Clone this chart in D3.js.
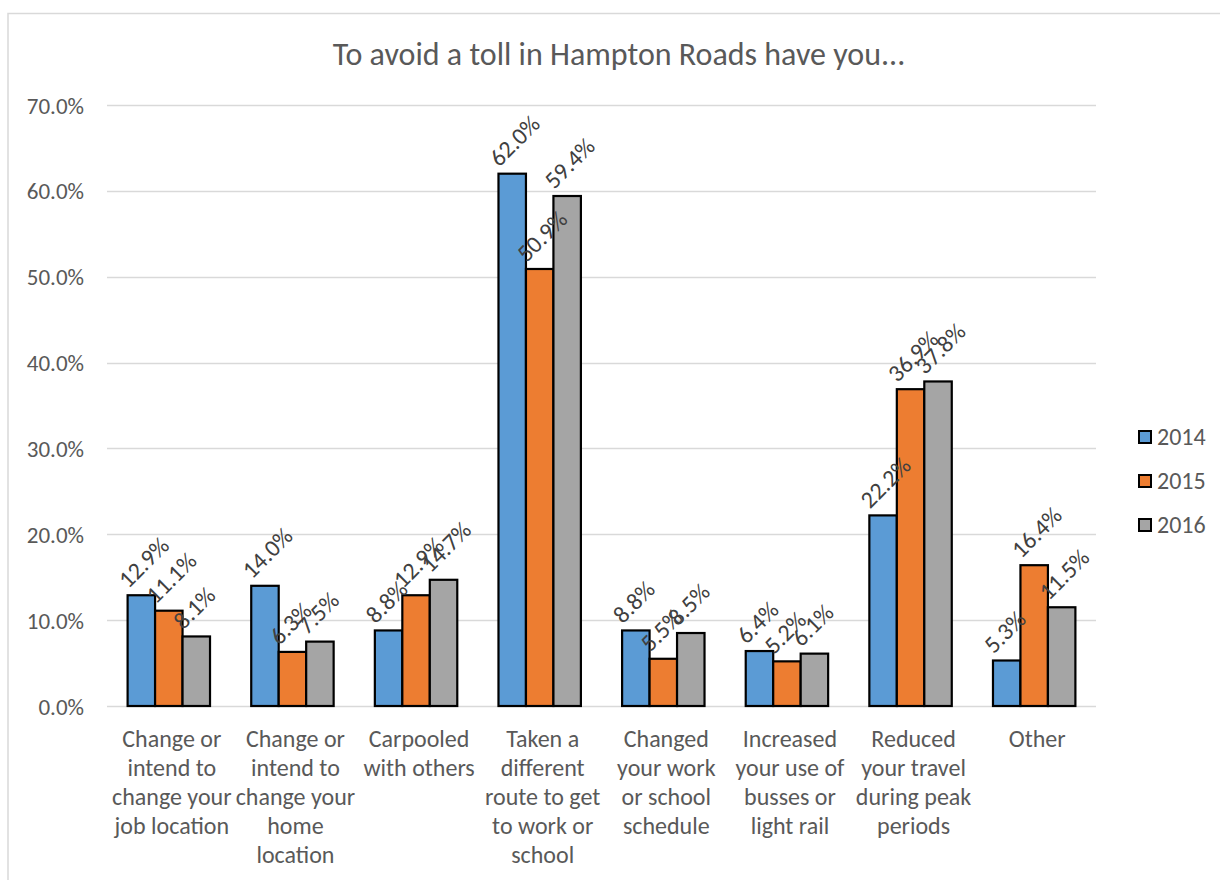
<!DOCTYPE html>
<html><head><meta charset="utf-8">
<script src="https://cdn.jsdelivr.net/npm/d3@7"></script>
<style>body{margin:0;background:#fff;} svg{display:block;}</style>
</head><body>
<script>
const title = "To avoid a toll in Hampton Roads have you...";
const categories = [
  "Change or|intend to|change your|job location",
  "Change or|intend to|change your|home|location",
  "Carpooled|with others",
  "Taken a|different|route to get|to work or|school",
  "Changed|your work|or school|schedule",
  "Increased|your use of|busses or|light rail",
  "Reduced|your travel|during peak|periods",
  "Other"
];
const seriesNames = ["2014", "2015", "2016"];
const values2014 = [12.9, 14.0, 8.8, 62.0, 8.8, 6.4, 22.2, 5.3];
const values2015 = [11.1, 6.3, 12.9, 50.9, 5.5, 5.2, 36.9, 16.4];
const values2016 = [8.1, 7.5, 14.7, 59.4, 8.5, 6.1, 37.8, 11.5];
const yTicks = [0, 10, 20, 30, 40, 50, 60, 70];
const colors = ["#5B9BD5", "#ED7D31", "#A5A5A5"];

const series = [values2014, values2015, values2016];
const W = 1220, H = 880;
const font = "Carlito, Calibri, 'Open Sans', sans-serif";
const svg = d3.select("body").append("svg").attr("width", W).attr("height", H)
  .style("font-family", font);

svg.append("rect").attr("x", 8).attr("y", 13.5).attr("width", 1300).attr("height", 1000)
  .attr("fill", "#fff").attr("stroke", "#d9d9d9").attr("stroke-width", 1.5);

svg.append("text").attr("x", 619).attr("y", 65).attr("text-anchor", "middle")
  .attr("fill", "#595959").style("font-size", "32px").text(title);

const pLeft = 107, pRight = 1096, pTop = 105, pBottom = 706;
const x = d3.scaleBand().domain(d3.range(categories.length)).range([pLeft, pRight]).paddingInner(0).paddingOuter(0);
const y = d3.scaleLinear().domain([0, 70]).range([pBottom, pTop]);
const groupW = x.bandwidth() / 1.5;
const xs = d3.scaleBand().domain(d3.range(3)).range([0, groupW]);

// grid
svg.append("g").selectAll("line").data(yTicks).join("line")
  .attr("x1", pLeft).attr("x2", pRight)
  .attr("y1", d => Math.round(y(d)) + 0.5).attr("y2", d => Math.round(y(d)) + 0.5)
  .attr("stroke", "#d9d9d9").attr("stroke-width", 1.5);

const yAxis = d3.axisLeft(y).tickValues(yTicks).tickSize(0).tickPadding(0)
  .tickFormat(d => d.toFixed(1) + "%");
const ya = svg.append("g").attr("transform", `translate(84,0)`).call(yAxis);
ya.select(".domain").remove();
ya.selectAll("text").attr("fill", "#595959").style("font-size", "23px").style("font-family", font)
  .attr("dy", "0.35em");

// bars
const groups = svg.append("g").selectAll("g").data(categories).join("g")
  .attr("transform", (d, i) => `translate(${x(i) + (x.bandwidth() - groupW) / 2},0)`);
groups.each(function(c, i) {
  const g = d3.select(this);
  series.forEach((vals, s) => {
    const v = vals[i];
    g.append("rect").attr("x", xs(s)).attr("y", y(v)).attr("width", xs.bandwidth())
      .attr("height", y(0) - y(v)).attr("fill", colors[s]).attr("stroke", "#000").attr("stroke-width", 2.2);
  });
  series.forEach((vals, s) => {
    const v = vals[i];
    const cx = xs(s) + xs.bandwidth() / 2;
    g.append("text").attr("transform", `translate(${cx - 13},${y(v) - 6}) rotate(-45)`)
      .attr("fill", "#404040").style("font-size", "24px").text(v.toFixed(1) + "%");
  });
});

// category labels
const xa = svg.append("g");
categories.forEach((c, i) => {
  const t = xa.append("text").attr("text-anchor", "middle").attr("fill", "#595959")
    .style("font-size", "24px");
  c.split("|").forEach((line, k) => {
    t.append("tspan").attr("x", x(i) + x.bandwidth() / 2 + 3).attr("y", 747 + k * 29).text(line);
  });
});

// legend
const lg = svg.append("g");
seriesNames.forEach((n, s) => {
  const yy = 437 + s * 44;
  lg.append("rect").attr("x", 1139).attr("y", yy - 6).attr("width", 12).attr("height", 12)
    .attr("fill", colors[s]).attr("stroke", "#000").attr("stroke-width", 2);
  lg.append("text").attr("x", 1157).attr("y", yy).attr("dy", "0.35em").attr("fill", "#595959")
    .style("font-size", "24px").text(n);
});
</script>
</body></html>
